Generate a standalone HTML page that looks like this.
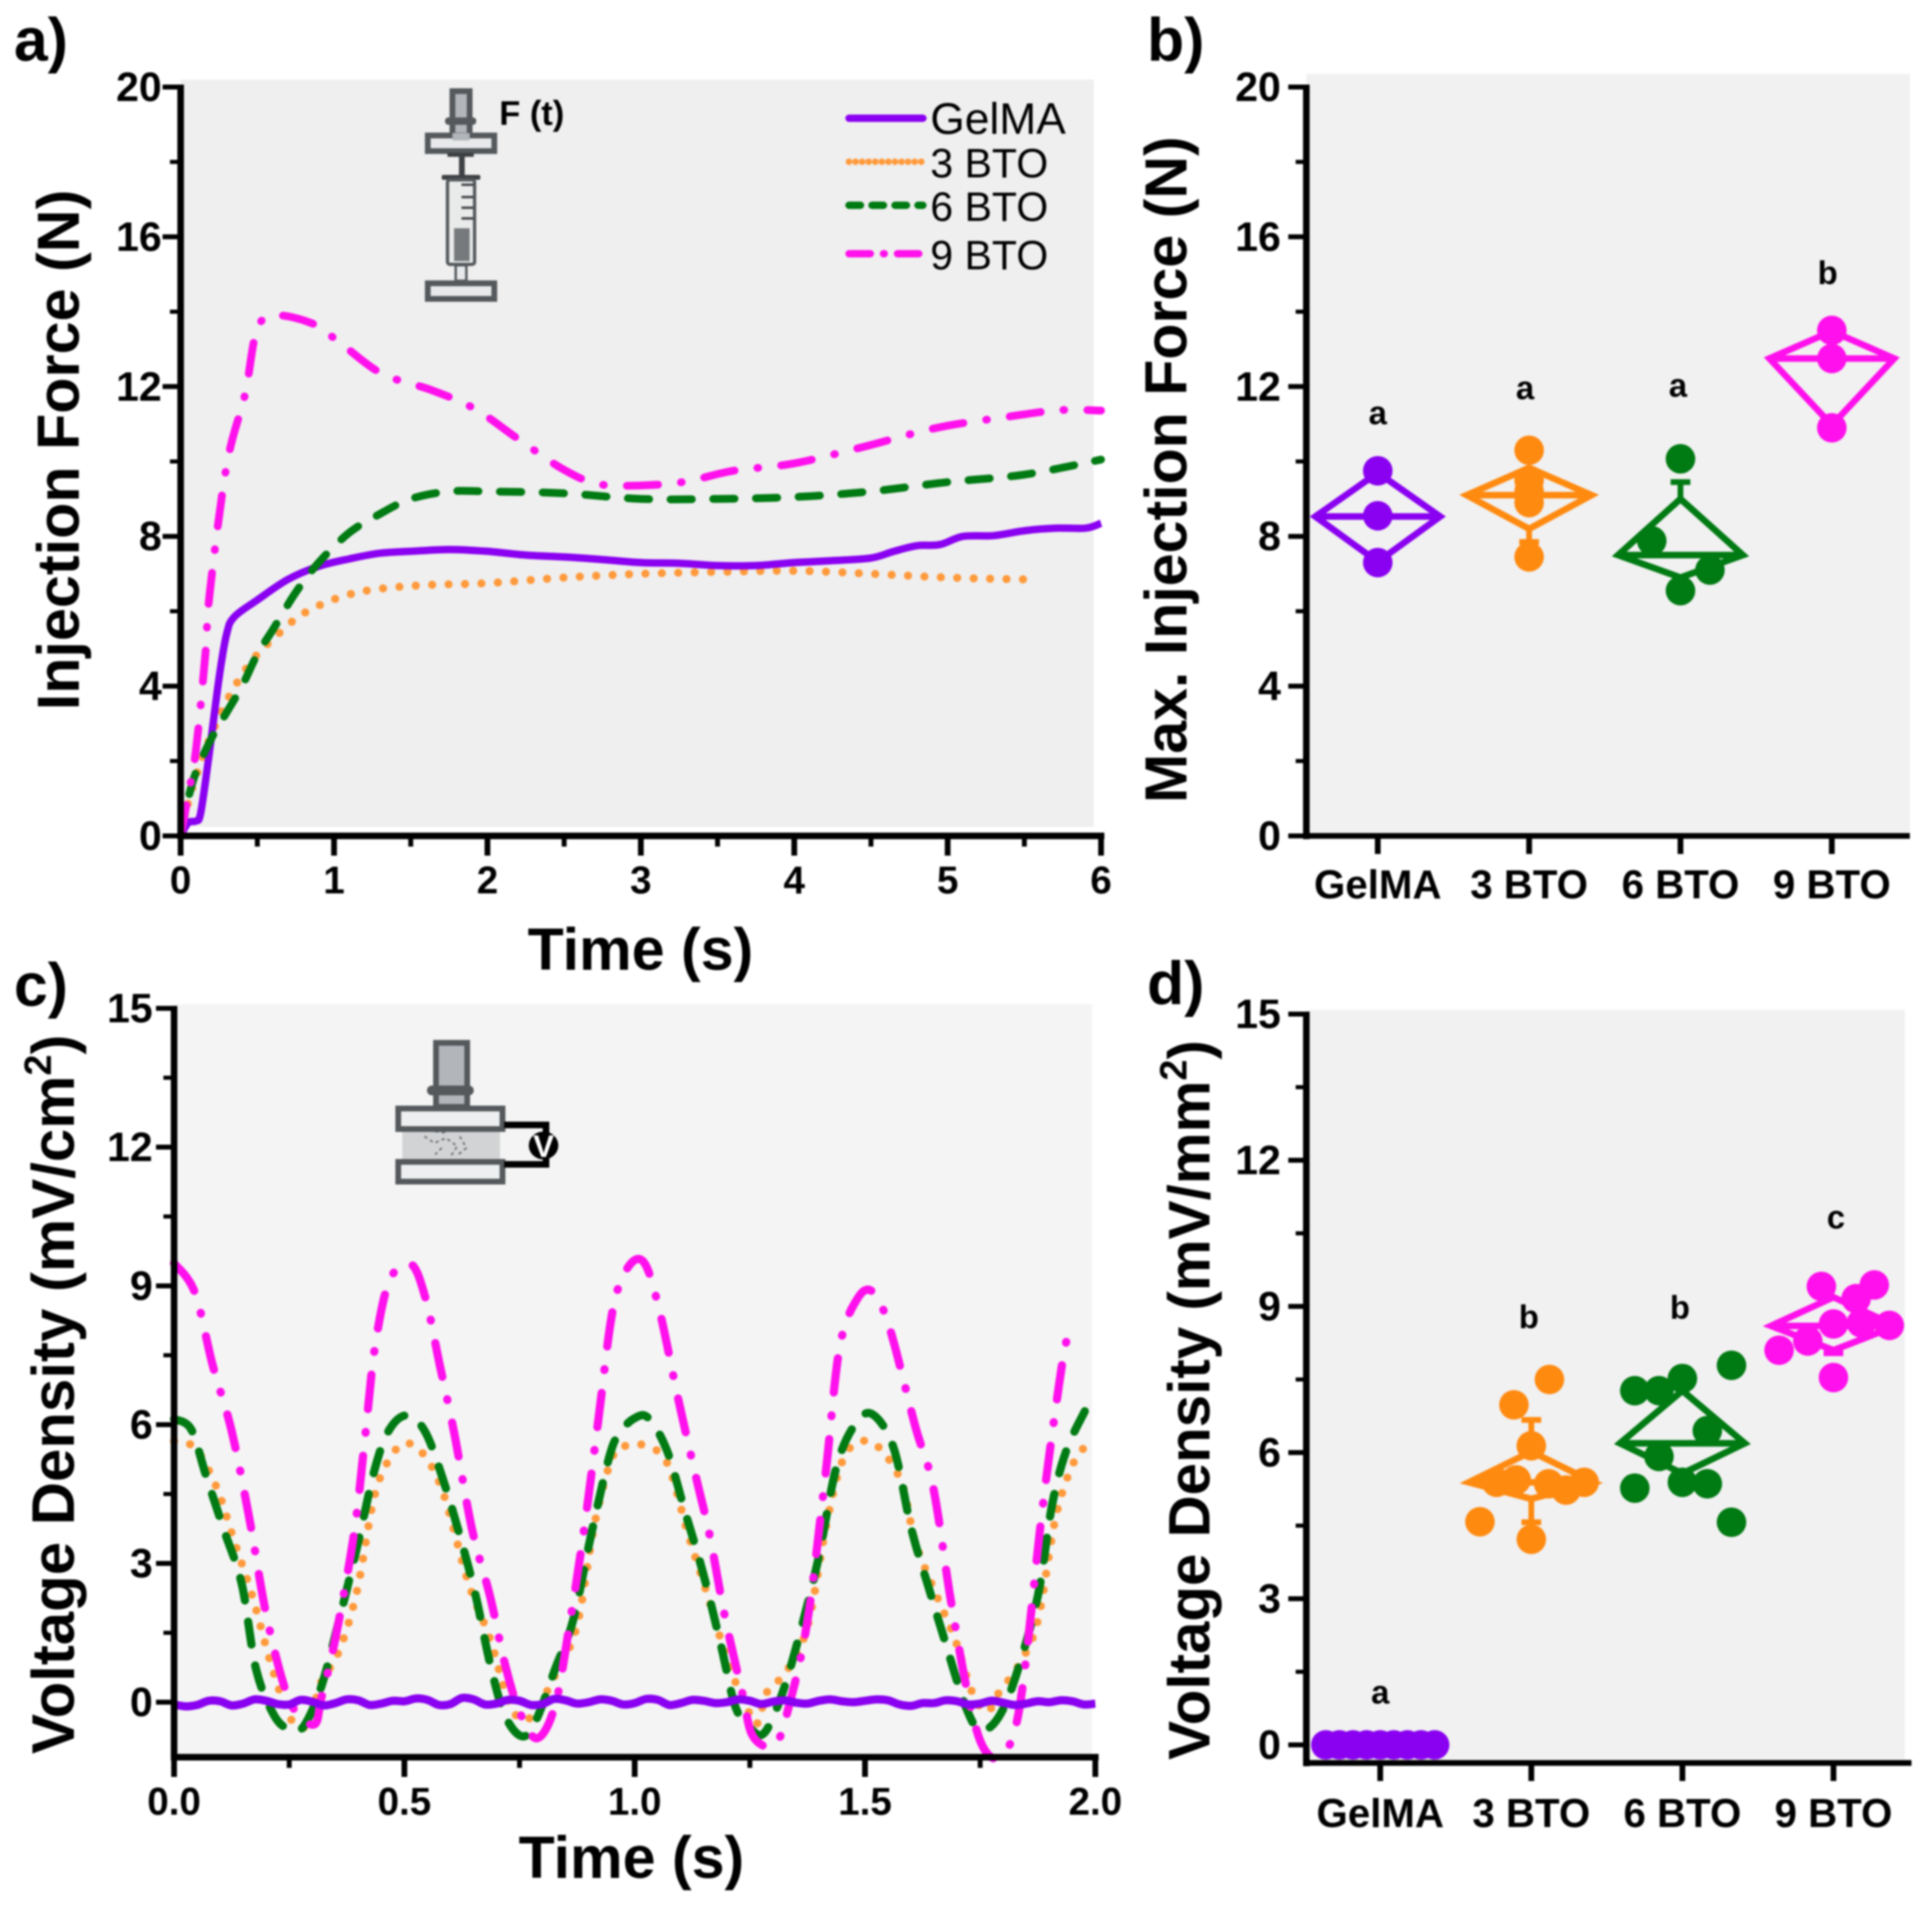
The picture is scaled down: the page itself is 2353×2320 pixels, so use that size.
<!DOCTYPE html>
<html lang="en">
<head>
<meta charset="utf-8">
<title>Injection force and voltage density</title>
<style>
html,body{margin:0;padding:0;background:#fff;}
svg{display:block;filter:blur(1px);}
text{font-family:"Liberation Sans",sans-serif;fill:#000;}
.b{font-weight:bold;}
.dk{fill:none;stroke:#55595c;}
</style>
</head>
<body>
<svg id="fig" xmlns="http://www.w3.org/2000/svg" width="2353" height="2320" viewBox="0 0 2353 2320">
  <rect x="0" y="0" width="2353" height="2320" fill="#fff"/>
  <rect x="220" y="97" width="1112" height="910" fill="#efefef"/>
  <rect x="1591" y="90" width="735" height="924" fill="#f1f1f1"/>
  <rect x="212" y="1223" width="1118" height="913" fill="#f4f4f4"/>
  <rect x="1591" y="1230" width="729" height="913" fill="#f1f1f1"/>

  <text class="b" x="17" y="74" font-size="74">a)</text>
  <text class="b" x="1397" y="74" font-size="74">b)</text>
  <text class="b" x="17" y="1225" font-size="74">c)</text>
  <text class="b" x="1397" y="1223" font-size="74">d)</text>

  <text class="b" font-size="72" text-anchor="middle" transform="translate(96,548) rotate(-90)" textLength="634" lengthAdjust="spacingAndGlyphs">Injection Force (N)</text>
  <text class="b" font-size="72" text-anchor="middle" x="780" y="1181">Time (s)</text>
  <text class="b" font-size="72" text-anchor="middle" transform="translate(1445,572) rotate(-90)" textLength="812" lengthAdjust="spacingAndGlyphs">Max. Injection Force (N)</text>
  <text class="b" font-size="73" text-anchor="middle" transform="translate(90,1698) rotate(-90)">Voltage Density (mV/cm<tspan font-size="46" dy="-28">2</tspan><tspan dy="28">)</tspan></text>
  <text class="b" font-size="72" text-anchor="middle" x="769" y="2287">Time (s)</text>
  <text class="b" font-size="71" text-anchor="middle" transform="translate(1473,1705) rotate(-90)">Voltage Density (mV/mm<tspan font-size="46" dy="-28">2</tspan><tspan dy="28">)</tspan></text>

  <g id="a-marks"></g>
  <g id="b-marks"></g>
  <g id="c-marks"></g>
  <g id="d-marks"></g>
  <g id="axes"></g>

  <g>
    <line x1="1034" y1="144" x2="1124" y2="144" stroke="#8a00f0" stroke-width="9" stroke-linecap="round"/>
    <text x="1133" y="163" font-size="54">GelMA</text>
    <line x1="1034" y1="197" x2="1126" y2="197" stroke="#ff9a3c" stroke-width="8" stroke-dasharray="0 8" stroke-linecap="round"/>
    <text x="1133" y="216" font-size="50">3 BTO</text>
    <line x1="1034" y1="250" x2="1124" y2="250" stroke="#007a12" stroke-width="9" stroke-dasharray="14 14" stroke-linecap="round"/>
    <text x="1133" y="269" font-size="50">6 BTO</text>
    <path d="M1034 309H1124" stroke="#ff10ec" stroke-width="9" stroke-dasharray="26 16 1 16" stroke-linecap="round" fill="none"/>
    <text x="1133" y="328" font-size="50">9 BTO</text>
  </g>

  <g>
    <rect x="551" y="111" width="21" height="58" fill="#b2b6ba" stroke="#55595c" stroke-width="7"/>
    <rect x="542" y="143" width="38" height="9" rx="4" fill="#55595c"/>
    <rect x="521" y="165" width="81" height="19" fill="#e8e9ea" stroke="#55595c" stroke-width="7"/>
    <rect x="551" y="162" width="21" height="9" fill="#b2b6ba"/>
    <rect x="545" y="186" width="32" height="5" fill="#3e4144"/>
    <rect x="559" y="190" width="7" height="24" fill="#3e4144"/>
    <rect x="538" y="213" width="47" height="6" rx="2" fill="#3e4144"/>
    <rect x="545" y="219" width="33" height="103" rx="3" fill="#e9eaea" stroke="#55595c" stroke-width="4"/>
    <path d="M562 225H577M562 240H577M562 253H577M562 266H577" stroke="#44474a" stroke-width="3" fill="none"/>
    <rect x="553" y="278" width="19" height="40" fill="#777a7c"/>
    <rect x="555" y="323" width="13" height="19" fill="#e8e9ea" stroke="#55595c" stroke-width="3"/>
    <rect x="521" y="345" width="81" height="19" fill="#e8e9ea" stroke="#55595c" stroke-width="7"/>
  </g>
  <text class="b" x="608" y="152" font-size="42">F (t)</text>

  <g>
    <rect x="531" y="1270" width="38" height="78" fill="#b2b6ba" stroke="#55595c" stroke-width="7"/>
    <rect x="520" y="1322" width="57" height="12" rx="6" fill="#55595c"/>
    <rect x="490" y="1375" width="119" height="37" fill="#d2d3d4"/>
    <path d="M517 1384l12 8l14 -6l14 10l-8 12M538 1398l-8 8M560 1384l8 14l-10 8M530 1378l16 2" stroke="#6b6d6f" stroke-width="2" stroke-dasharray="4 4" fill="none"/>
    <rect x="485" y="1350" width="127" height="25" fill="#eeeff0" stroke="#55595c" stroke-width="7"/>
    <rect x="485" y="1415" width="127" height="24" fill="#eeeff0" stroke="#55595c" stroke-width="7"/>
    <path d="M614 1370H665V1418H614" stroke="#000" stroke-width="8" fill="none"/>
    <ellipse cx="662" cy="1395" rx="18" ry="17" fill="#000"/>
    <text class="b" x="662" y="1409" font-size="38" text-anchor="middle" style="fill:#fff">V</text>
  </g>
</svg>
<script>
// ---------- Panel a: injection force vs time ----------
const aGelmaTime = [0,0.05,0.1,0.13,0.18,0.25,0.3,0.35,0.5,0.7,0.9,1.1,1.3,1.5,1.75,2,2.25,2.5,2.75,3,3.25,3.5,3.75,4,4.25,4.5,4.65,4.8,4.95,5.1,5.3,5.5,5.7,5.9,6];
const aGelmaForce = [0,0.35,0.4,0.6,2,4.2,5.4,5.85,6.3,6.85,7.2,7.4,7.55,7.6,7.65,7.6,7.5,7.45,7.38,7.3,7.28,7.22,7.22,7.3,7.35,7.42,7.6,7.75,7.78,8,8.02,8.15,8.22,8.22,8.35];
const a3BtoTime = [0,0.05,0.1,0.2,0.3,0.4,0.5,0.6,0.75,0.9,1.1,1.3,1.6,2,2.5,3,3.5,4,4.5,5,5.5];
const a3BtoForce = [0,0.9,1.6,2.7,3.6,4.3,4.85,5.25,5.8,6.15,6.45,6.6,6.7,6.75,6.9,7,7.05,7.08,7,6.9,6.85];
const a6BtoTime = [0,0.05,0.1,0.2,0.3,0.4,0.5,0.6,0.75,0.9,1.1,1.3,1.5,1.75,2,2.5,3,3.5,4,4.5,5,5.5,6];
const a6BtoForce = [0,1,1.7,2.6,3.3,4,4.85,5.5,6.5,7.3,8.1,8.6,9,9.2,9.2,9.15,9,9,9.05,9.2,9.45,9.65,10.05];
const a9BtoTime = [0,0.05,0.1,0.16,0.19,0.3,0.42,0.49,0.59,0.85,1.03,1.31,1.64,1.92,2.2,2.49,2.72,3,3.29,3.6,4,4.46,4.93,5.4,5.73,6];
const a9BtoForce = [0,1.1,2.3,4.8,6.5,9.9,11.8,13.4,13.9,13.7,13.2,12.35,11.9,11.4,10.6,9.8,9.4,9.36,9.46,9.75,9.95,10.4,10.9,11.2,11.37,11.36];
const aYTicks = ["0","4","8","12","16","20"];
const aYMinor = [2,6,10,14,18];
const aXTicks = ["0","1","2","3","4","5","6"];
const aXMinor = [0.5,1.5,2.5,3.5,4.5,5.5];

// ---------- Panel b: max injection force ----------
const groupLabels = ["GelMA","3 BTO","6 BTO","9 BTO"];
const bGelma = [9.75,8.55,7.3];
const bGelmaSlot = [0,0,0];
const b3Bto = [10.3,9.5,9.2,8.9,7.45];
const b3BtoSlot = [0,0,0,0,0];
const b6Bto = [10.07,7.88,7.1,6.55];
const b6BtoSlot = [0,-1.9,1.95,0];
const b9Bto = [13.5,12.75,10.9];
const b9BtoSlot = [0,0,0];
const bMean = [8.53,9.1,7.5,12.75];
const bBoxTop = [9.7,9.83,9.0,13.48];
const bBoxBottom = [7.32,8.2,6.9,10.97];
const bWhiskerHigh = [9.7,9.83,9.45,13.48];
const bWhiskerLow = [7.32,7.85,6.9,10.97];
const bLetters = ["a","a","a","b"];
const bLetterValues = [11.0,11.67,11.73,14.74];
const bYTicks = ["0","4","8","12","16","20"];
const bYMinor = [2,6,10,14,18];

// ---------- Panel c: voltage density vs time ----------
const cGelmaTime = [0,0.025,0.05,0.075,0.1,0.125,0.15,0.175,0.2,0.225,0.25,0.275,0.3,0.325,0.35,0.375,0.4,0.425,0.45,0.475,0.5,0.525,0.55,0.575,0.6,0.625,0.65,0.675,0.7,0.725,0.75,0.775,0.8,0.825,0.85,0.875,0.9,0.925,0.95,0.975,1,1.025,1.05,1.075,1.1,1.125,1.15,1.175,1.2,1.225,1.25,1.275,1.3,1.325,1.35,1.375,1.4,1.425,1.45,1.475,1.5,1.525,1.55,1.575,1.6,1.625,1.65,1.675,1.7,1.725,1.75,1.775,1.8,1.825,1.85,1.875,1.9,1.925,1.95,1.975,2];
const cGelmaVolt = [-0.05,-0.09,-0.06,0.03,0.02,-0.07,-0.03,0.06,0.03,-0.04,-0.05,0.05,0.01,-0.07,-0.02,0.06,0.04,-0.06,-0.03,0.03,0.02,0.08,0.05,-0.06,-0.04,0.09,0.06,-0.05,-0.03,0.05,0.03,-0.06,-0.04,0.07,0.04,-0.03,0,0.06,0.03,-0.05,-0.02,0.07,0.05,-0.06,-0.02,0.05,0.03,-0.02,0,0.06,0.03,-0.04,0.01,0.04,-0.01,-0.03,0.03,0.06,0.02,0,0.03,0.06,0.04,-0.05,-0.08,-0.02,-0.02,0.04,0.02,-0.05,-0.03,0.03,-0.01,-0.06,-0.03,0.02,0,0.04,0.02,-0.05,-0.03];
const c3BtoTime = [0,0.045,0.092,0.131,0.17,0.21,0.249,0.28,0.303,0.32,0.358,0.397,0.436,0.475,0.507,0.546,0.585,0.64,0.686,0.725,0.757,0.788,0.827,0.874,0.913,0.952,0.984,1.02,1.07,1.117,1.163,1.203,1.242,1.265,1.289,1.328,1.375,1.414,1.445,1.476,1.523,1.578,1.609,1.656,1.695,1.734,1.765,1.789,1.836,1.875,1.914,1.953,1.987];
const c3BtoVolt = [5.64,5.5,4.65,3.47,2.29,0.84,-0.28,-0.56,-0.1,0.45,1.1,2.4,4.5,5.37,5.6,5.3,4.5,2.55,1.37,0.05,-0.4,-0.14,0.58,1.63,3.86,5.31,5.55,5.55,5.18,3.6,2.16,0.84,-0.08,-0.47,0.25,0.64,1.63,3.73,5.05,5.57,5.57,4.78,3.47,2.29,1.37,0.18,-0.21,0.18,0.84,1.76,4,5.18,5.61];
const c6BtoTime = [0,0.037,0.069,0.108,0.147,0.178,0.217,0.249,0.28,0.319,0.358,0.397,0.436,0.468,0.507,0.546,0.585,0.624,0.655,0.686,0.718,0.757,0.788,0.827,0.866,0.905,0.945,0.968,1,1.03,1.07,1.109,1.148,1.187,1.218,1.249,1.281,1.32,1.359,1.398,1.437,1.476,1.515,1.562,1.601,1.64,1.672,1.718,1.75,1.789,1.828,1.875,1.906,1.937,1.977];
const c6BtoVolt = [6.12,5.9,4.91,3.73,2.55,0.71,-0.28,-0.58,-0.54,0.32,1.76,3.34,5.05,5.9,6.2,5.83,4.78,3.47,2.29,0.84,-0.28,-0.74,-0.34,0.71,1.76,3.6,5.31,5.83,6.14,6.14,5.44,4.13,2.81,1.24,-0.08,-0.54,-0.67,0.18,1.5,3.07,5.05,5.97,6.23,5.5,3.73,2.42,1.37,-0.08,-0.6,-0.34,0.58,2.29,4.26,5.44,6.29];
const c9BtoTime = [0,0.045,0.084,0.124,0.163,0.2,0.24,0.27,0.306,0.32,0.35,0.39,0.413,0.436,0.468,0.514,0.546,0.577,0.608,0.647,0.686,0.718,0.75,0.788,0.827,0.858,0.89,0.921,0.952,0.984,1.02,1.054,1.093,1.132,1.163,1.195,1.234,1.257,1.304,1.335,1.375,1.414,1.445,1.484,1.518,1.554,1.609,1.648,1.687,1.726,1.758,1.797,1.836,1.883,1.914,1.937,1.956];
const c9BtoVolt = [9.49,8.86,7.28,5.9,4,1.9,0.32,-0.28,-0.47,0.1,1.37,3.6,5.57,7.67,9.12,9.47,8.73,7.28,5.83,3.73,2.29,0.84,-0.21,-0.78,-0.08,1.63,3.73,6.1,8.46,9.38,9.51,8.46,6.62,4.91,3.6,1.89,0.18,-0.74,-0.93,-0.08,1.76,4.91,7.67,8.73,8.86,8.07,5.97,4.65,2.16,0.05,-1,-1.15,-0.08,4,6.36,7.8,8.23];
const cYTicks = ["0","3","6","9","12","15"];
const cYMinor = [1.5,4.5,7.5,10.5,13.5];
const cXTicks = ["0.0","0.5","1.0","1.5","2.0"];
const cXMinor = [0.25,0.75,1.25,1.75];

// ---------- Panel d: voltage density by group ----------
const dGelma = [0,0,0,0,0,0,0,0,0];
const dGelmaSlot = [-3.6,-2.7,-1.8,-0.9,0,0.9,1.8,2.7,3.6];
const d3Bto = [7.5,6.98,6.14,4.58,4.22,5.39,5.44,5.36,5.23,5.39];
const d3BtoSlot = [1.2,-1.15,0,-3.4,0,-2.3,-1,1.15,2.3,3.5];
const d6Bto = [7.27,7.27,7.52,7.79,6.45,5.92,5.27,5.39,5.36,4.57];
const d6BtoSlot = [-3.15,-1.55,0,3.25,1.65,-1.55,-3.15,0,1.65,3.25];
const d9Bto = [9.41,9.44,9.16,8.61,8.1,8.64,8.29,7.54,8.66];
const d9BtoSlot = [-0.8,2.7,1.5,3.7,-3.6,0,-1.7,0,1.85];
const dMean = [0,5.39,6.19,8.6];
const dBoxTop = [0,6.02,7.27,9.19];
const dBoxBottom = [0,5.05,5.57,8.1];
const dWhiskerHigh = [0,6.67,7.27,9.19];
const dWhiskerLow = [0,4.57,5.57,8.04];
const dLetters = ["a","b","b","c"];
const dLetterValues = [0.85,8.55,8.75,10.6];
const dYTicks = ["0","3","6","9","12","15"];
const dYMinor = [1.5,4.5,7.5,10.5,13.5];

// ---------- Colours ----------
const PURPLE = "#8a00f0", ORANGE = "#ff9a3c", GREEN = "#007a12", MAGENTA = "#ff10ec";
const BOX_ORANGE = "#ff8a10";
const NS = "http://www.w3.org/2000/svg";

// ---------- Scales ----------
function linear(d0, d1, r0, r1) { return v => r0 + (v - d0) * (r1 - r0) / (d1 - d0); }
const ax = linear(0, 6, 220, 1341), ay = linear(0, 20, 1018, 106);
const by = linear(0, 20, 1018, 106);
const cx = linear(0, 2, 212, 1334), cy = linear(0, 15, 2073, 1228);
const dy = linear(0, 15, 2125, 1235);
const bCat = linear(0, 3, 1678, 2231);
const dCat = linear(0, 3, 1681, 2233);
const SLOT = 18.4;

function make(parent, tag, attrs) {
  const el = document.createElementNS(NS, tag);
  for (const k in attrs) el.setAttribute(k, attrs[k]);
  parent.appendChild(el);
  return el;
}

function smoothPath(xs, ys) {
  let d = "M" + xs[0].toFixed(1) + " " + ys[0].toFixed(1);
  for (let i = 0; i < xs.length - 1; i++) {
    const p0 = Math.max(i - 1, 0), p3 = Math.min(i + 2, xs.length - 1);
    const c1x = xs[i] + (xs[i + 1] - xs[p0]) / 6, c1y = ys[i] + (ys[i + 1] - ys[p0]) / 6;
    const c2x = xs[i + 1] - (xs[p3] - xs[i]) / 6, c2y = ys[i + 1] - (ys[p3] - ys[i]) / 6;
    d += "C" + c1x.toFixed(1) + " " + c1y.toFixed(1) + " " + c2x.toFixed(1) + " " + c2y.toFixed(1) + " " + xs[i + 1].toFixed(1) + " " + ys[i + 1].toFixed(1);
  }
  return d;
}

function drawLine(parent, name, xs, ys, sx, sy, color, width, dash) {
  const path = make(parent, "path", {
    d: smoothPath(xs.map(sx), ys.map(sy)),
    fill: "none", stroke: color, "stroke-width": width,
    "stroke-linecap": dash ? "round" : "butt", "stroke-linejoin": "round"
  });
  if (dash) path.setAttribute("stroke-dasharray", dash);
  
  
}

function drawTickLabel(parent, name, txt, x, y, anchor, size) {
  const t = make(parent, "text", { x: x, y: y, "text-anchor": anchor, "font-size": size, "font-weight": "bold" });
  t.textContent = txt;
  
  
}

function drawRule(parent, name, x1, y1, x2, y2, w) {
  const l = make(parent, "line", { x1: x1, y1: y1, x2: x2, y2: y2, stroke: "#000", "stroke-width": w });
  
  
}

function drawYAxis(g, p, axisX, top, bottom, sy, labels, minor, labelX) {
  drawRule(g, p + "-y-axis-line", axisX, top - 3, axisX, bottom + 4, 8);
  labels.forEach(lb => {
    const v = +lb;
    drawRule(g, p + "-y-tick", axisX - 22, sy(v), axisX, sy(v), 6);
    drawTickLabel(g, p + "-y-tick-label", lb, labelX, sy(v) + 17, "end", 50);
  });
  minor.forEach(v => drawRule(g, p + "-y-minor-tick", axisX - 13, sy(v), axisX, sy(v), 5));
}

function drawTimeAxis(g, p, axisY, xStart, xEnd, sx, labels, minor, labelY) {
  drawRule(g, p + "-x-axis-line", xStart - 4, axisY, xEnd + 4, axisY, 8);
  labels.forEach(lb => {
    const v = +lb;
    drawRule(g, p + "-x-tick", sx(v), axisY, sx(v), axisY + 24, 7);
    drawTickLabel(g, p + "-x-tick-label", lb, sx(v), labelY, "middle", 47);
  });
  minor.forEach(v => drawRule(g, p + "-x-minor-tick", sx(v), axisY, sx(v), axisY + 13, 6));
}

function drawGroupAxis(g, p, axisY, xStart, xEnd, cat, labelY) {
  drawRule(g, p + "-x-axis-line", xStart - 4, axisY, xEnd, axisY, 7);
  groupLabels.forEach((lb, i) => {
    drawRule(g, p + "-x-tick", cat(i), axisY, cat(i), axisY + 22, 7);
    drawTickLabel(g, p + "-x-tick-label", lb, cat(i), labelY, "middle", 49);
  });
}

function drawPoints(parent, name, cx0, values, slots, sy, color) {
  values.forEach((v, i) => {
    const c = make(parent, "circle", { cx: cx0 + slots[i] * SLOT, cy: sy(v), r: 18, fill: color });
    
    
  });
}

function drawDiamond(parent, name, x, sy, top, mean, bottom, high, low, color) {
  const hw = 76;
  const d = "M" + (x - hw) + " " + sy(mean) + "L" + x + " " + sy(top) + "L" + (x + hw) + " " + sy(mean) + "L" + x + " " + sy(bottom) + "Z" +
    "M" + (x - hw) + " " + sy(mean) + "H" + (x + hw);
  const p = make(parent, "path", { d: d, fill: "none", stroke: color, "stroke-width": 8, "stroke-linejoin": "miter" });
  
  
  if (high > top) {
    const w = make(parent, "path", { d: "M" + x + " " + sy(top) + "V" + sy(high) + "M" + (x - 12) + " " + sy(high) + "H" + (x + 12), fill: "none", stroke: color, "stroke-width": 7 });
    
    
  }
  if (low < bottom) {
    const w = make(parent, "path", { d: "M" + x + " " + sy(bottom) + "V" + sy(low) + "M" + (x - 12) + " " + sy(low) + "H" + (x + 12), fill: "none", stroke: color, "stroke-width": 7 });
    
    
  }
}

function drawLetters(parent, name, letters, values, cat, offsets, sy) {
  letters.forEach((s, i) => {
    const t = make(parent, "text", { x: cat(i) + offsets[i], y: sy(values[i]), "text-anchor": "middle", "font-size": 40, "font-weight": "bold" });
    t.textContent = s;
    
    
  });
}

// ---------- Render ----------
const axesG = document.getElementById("axes");
const gA = document.getElementById("a-marks");
const gB = document.getElementById("b-marks");
const gC = document.getElementById("c-marks");
const gD = document.getElementById("d-marks");

drawYAxis(axesG, "panel-a", 220, 106, 1018, ay, aYTicks, aYMinor, 197);
drawTimeAxis(axesG, "panel-a", 1018, 220, 1341, ax, aXTicks, aXMinor, 1088);
drawYAxis(axesG, "panel-b", 1591, 106, 1018, by, bYTicks, bYMinor, 1560);
drawGroupAxis(axesG, "panel-b", 1018, 1591, 2326, bCat, 1094);
drawYAxis(axesG, "panel-c", 212, 1228, 2139, cy, cYTicks, cYMinor, 186);
drawTimeAxis(axesG, "panel-c", 2140, 212, 1334, cx, cXTicks, cXMinor, 2210);
drawYAxis(axesG, "panel-d", 1591, 1235, 2147, dy, dYTicks, dYMinor, 1560);
drawGroupAxis(axesG, "panel-d", 2147, 1591, 2328, dCat, 2225);

drawLine(gA, "panel-a-line-3-bto", a3BtoTime, a3BtoForce, ax, ay, ORANGE, 10, "0 20");
drawLine(gA, "panel-a-line-gelma", aGelmaTime, aGelmaForce, ax, ay, PURPLE, 9, null);
drawLine(gA, "panel-a-line-6-bto", a6BtoTime, a6BtoForce, ax, ay, GREEN, 9.5, "26 26");
drawLine(gA, "panel-a-line-9-bto", a9BtoTime, a9BtoForce, ax, ay, MAGENTA, 9.5, "38 28 1 28");

drawLine(gC, "panel-c-line-3-bto", c3BtoTime, c3BtoVolt, cx, cy, ORANGE, 10, "0 20");
drawLine(gC, "panel-c-line-6-bto", c6BtoTime, c6BtoVolt, cx, cy, GREEN, 10, "28 26");
drawLine(gC, "panel-c-line-9-bto", c9BtoTime, c9BtoVolt, cx, cy, MAGENTA, 10, "42 28 1 28");
drawLine(gC, "panel-c-line-gelma", cGelmaTime, cGelmaVolt, cx, cy, PURPLE, 10, null);

drawPoints(gB, "panel-b-point-gelma", bCat(0), bGelma, bGelmaSlot, by, PURPLE);
drawPoints(gB, "panel-b-point-3-bto", bCat(1), b3Bto, b3BtoSlot, by, BOX_ORANGE);
drawPoints(gB, "panel-b-point-6-bto", bCat(2), b6Bto, b6BtoSlot, by, GREEN);
drawPoints(gB, "panel-b-point-9-bto", bCat(3), b9Bto, b9BtoSlot, by, MAGENTA);
[PURPLE, BOX_ORANGE, GREEN, MAGENTA].forEach((col, i) => {
  drawDiamond(gB, "panel-b-diamond-" + i, bCat(i), by, bBoxTop[i], bMean[i], bBoxBottom[i], bWhiskerHigh[i], bWhiskerLow[i], col);
});
drawLetters(gB, "panel-b-significance-letter", bLetters, bLetterValues, bCat, [0, -5, -3, -5], by);

drawPoints(gD, "panel-d-point-gelma", dCat(0), dGelma, dGelmaSlot, dy, PURPLE);
drawPoints(gD, "panel-d-point-3-bto", dCat(1), d3Bto, d3BtoSlot, dy, BOX_ORANGE);
drawPoints(gD, "panel-d-point-6-bto", dCat(2), d6Bto, d6BtoSlot, dy, GREEN);
drawPoints(gD, "panel-d-point-9-bto", dCat(3), d9Bto, d9BtoSlot, dy, MAGENTA);
[BOX_ORANGE, GREEN, MAGENTA].forEach((col, j) => {
  const i = j + 1;
  drawDiamond(gD, "panel-d-diamond-" + i, dCat(i), dy, dBoxTop[i], dMean[i], dBoxBottom[i], dWhiskerHigh[i], dWhiskerLow[i], col);
});
drawLetters(gD, "panel-d-significance-letter", dLetters, dLetterValues, dCat, [0, -3, -3, 3], dy);
</script>
</body>
</html>
